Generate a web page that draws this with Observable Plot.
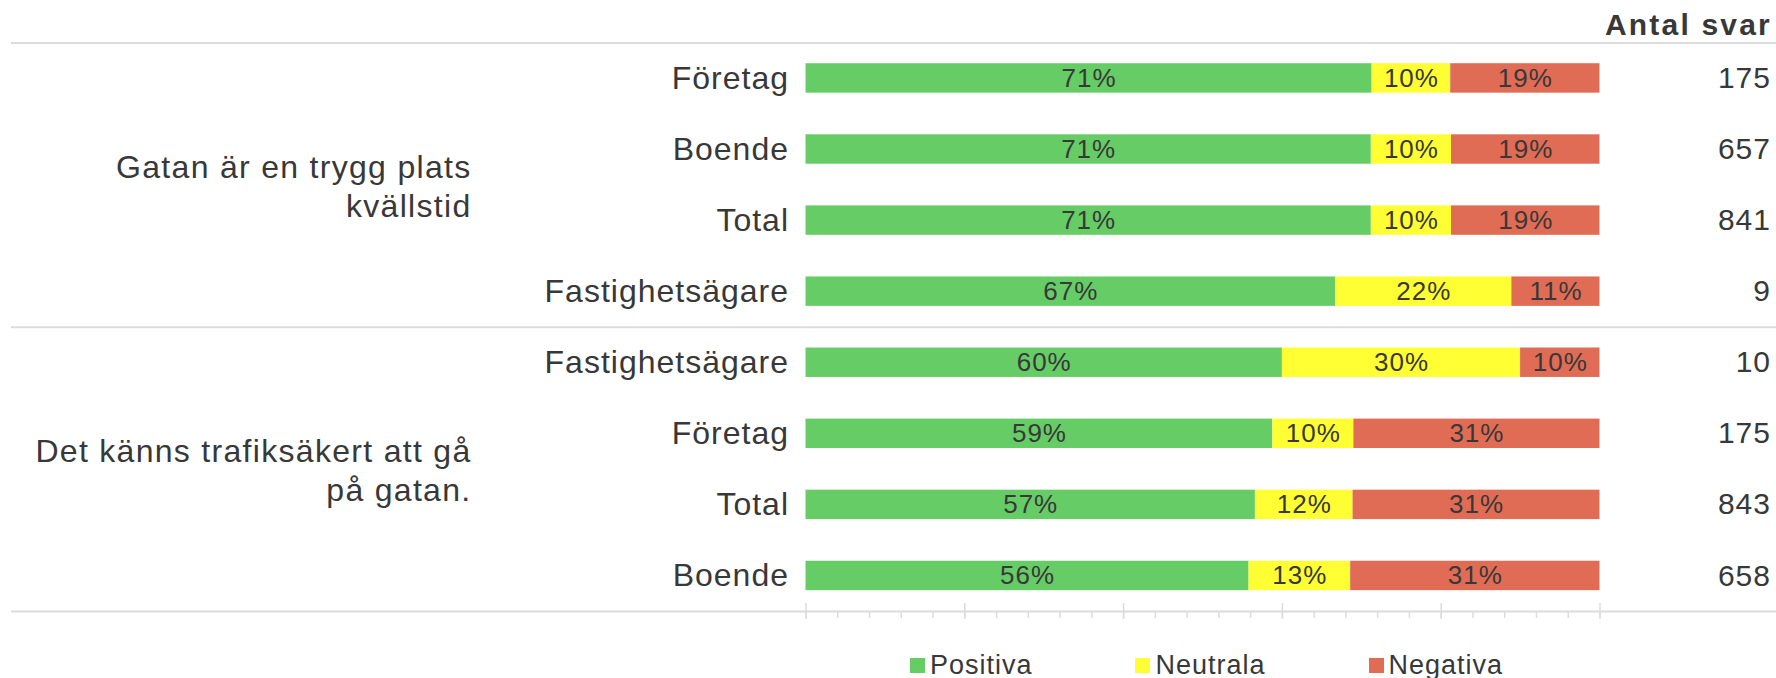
<!DOCTYPE html>
<html>
<head>
<meta charset="utf-8">
<script src="https://cdn.jsdelivr.net/npm/d3@7"></script>
<script src="https://cdn.jsdelivr.net/npm/@observablehq/plot@0.6"></script>
<style>
  body { margin: 0; background: #fff; }
  #wrap { position: relative; width: 1776px; height: 678px; font-family: 'Liberation Sans', Arial, sans-serif; }
  #legend { position: absolute; top: 650px; left: 809.5px; width: 794px; height: 30px;
            display: flex; align-items: center; justify-content: center; gap: 103px;
            font-size: 27px; letter-spacing: 1px; color: #383838; }
  #legend .item { display: flex; align-items: center; }
  #legend .sw { width: 15px; height: 15px; margin-right: 5px; }
  .grp text { letter-spacing: 1.3px; }
  .hdr text { letter-spacing: 2.2px; }
</style>
</head>
<body>
<div id="wrap"></div>
<script>
// ---- data ----
const groupLabels = ["Gatan är en trygg plats\nkvällstid", "Det känns trafiksäkert att gå\npå gatan."];
const groupOf    = [0, 0, 0, 0, 1, 1, 1, 1];
const categories = ["Företag", "Boende", "Total", "Fastighetsägare", "Fastighetsägare", "Företag", "Total", "Boende"];
const positiva   = [71.3, 71.2, 71.2, 66.7, 60.0, 58.8, 56.6, 55.8];
const neutrala   = [ 9.9, 10.1, 10.1, 22.2, 30.0, 10.2, 12.3, 12.8];
const negativa   = [18.8, 18.7, 18.7, 11.1, 10.0, 31.0, 31.1, 31.4];
const antalSvar  = [175, 657, 841, 9, 10, 175, 843, 658];
const answers    = ["Positiva", "Neutrala", "Negativa"];
const answerColors = ["#66cc66", "#ffff33", "#e06c55"];
const headerText = "Antal svar";
const majorTicks = [0, 20, 40, 60, 80, 100];
const minorTicks = d3.range(0, 101, 4);

// ---- derived tables ----
const rows = categories.map((c, i) => ({key: "r" + i, category: c, group: groupOf[i], n: antalSvar[i]}));
const series = [positiva, neutrala, negativa];
const long = [];
rows.forEach((r, i) => answers.forEach((a, j) => long.push({key: r.key, answer: a, value: series[j][i]})));
const groups = groupLabels.map((label, g) => {
  const members = rows.filter(r => r.group === g);
  return {label, anchor: members[1].key, first: members[0].key, last: members[members.length - 1].key};
});

// ---- layout ----
const W = 1776, H = 648;
const marginLeft = 805.5, marginRight = 176.5, marginTop = 42.4, marginBottom = 37;
const step = (H - marginTop - marginBottom) / rows.length;
const textColor = "#383838";
const lineColor = "#dcdcdc";

const chart = Plot.plot({
  width: W, height: H,
  marginLeft, marginRight, marginTop, marginBottom,
  style: {fontFamily: "'Liberation Sans', Arial, sans-serif", letterSpacing: "1px", background: "#fff"},
  x: {domain: [0, 100], label: null},
  y: {domain: rows.map(r => r.key), paddingInner: 0.586, paddingOuter: 0.293, round: false, axis: null},
  color: {domain: answers, range: answerColors},
  marks: [
    // separators
    Plot.ruleY(groups.map(g => g.first), {y: d => d, dy: -step / 2, stroke: lineColor, strokeWidth: 2, insetLeft: -(marginLeft - 11), insetRight: -marginRight}),
    Plot.ruleY([rows[rows.length - 1].key], {y: d => d, dy: step / 2, stroke: lineColor, strokeWidth: 2, insetLeft: -(marginLeft - 11), insetRight: -marginRight}),
    // axis ticks
    Plot.axisX({ticks: minorTicks, tickSize: 7, tickFormat: () => "", label: null, stroke: lineColor, strokeWidth: 1.5}),
    Plot.axisX({ticks: majorTicks, tickSize: 16, dy: -8, tickFormat: () => "", label: null, stroke: lineColor, strokeWidth: 1.5}),
    // bars
    Plot.barX(long, Plot.stackX({x: "value", y: "key", z: "answer", fill: "answer", order: answers})),
    Plot.text(long, Plot.stackX({x: "value", y: "key", z: "answer", order: answers,
      text: d => Math.round(d.value) + "%", fill: textColor, fontSize: 26})),
    // category labels
    Plot.text(rows, {y: "key", text: "category", frameAnchor: "left", textAnchor: "end", dx: -17, fontSize: 32, fill: textColor}),
    // group labels
    Plot.text(groups, {y: "anchor", text: "label", frameAnchor: "left", textAnchor: "end", dx: -(marginLeft - 471), dy: step / 2,
      lineAnchor: "middle", lineHeight: 1.2, fontSize: 32, fill: textColor, className: "grp"}),
    // counts
    Plot.text(rows, {y: "key", text: d => String(d.n), frameAnchor: "right", textAnchor: "end", dx: 171, fontSize: 30, fill: textColor}),
    Plot.text([headerText], {text: d => d, frameAnchor: "top-right", textAnchor: "end", lineAnchor: "middle", dx: 172, dy: -18,
      fontSize: 30, fontWeight: "bold", fill: textColor, className: "hdr"})
  ]
});

const wrap = document.getElementById("wrap");
wrap.appendChild(chart);

// legend from the plot's own color scale
const cs = chart.scale("color");
const legend = document.createElement("div");
legend.id = "legend";
cs.domain.forEach((d, i) => {
  const item = document.createElement("div");
  item.className = "item";
  const sw = document.createElement("div");
  sw.className = "sw";
  sw.style.background = cs.range[i];
  const lab = document.createElement("span");
  lab.textContent = d;
  item.appendChild(sw);
  item.appendChild(lab);
  legend.appendChild(item);
});
wrap.appendChild(legend);
</script>
</body>
</html>
